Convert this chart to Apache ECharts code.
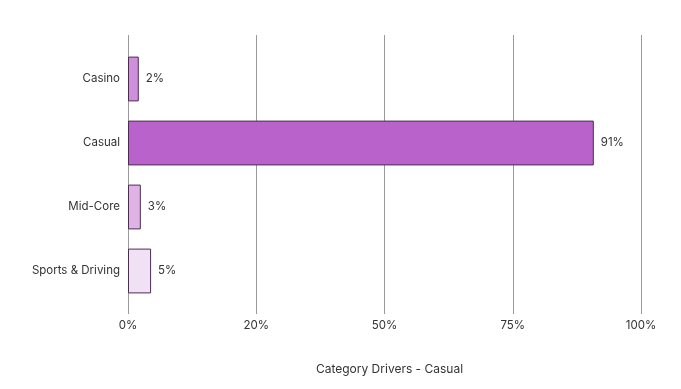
<!DOCTYPE html>
<html><head><meta charset="utf-8">
<script src="https://cdn.jsdelivr.net/npm/echarts@6/dist/echarts.min.js"></script>
<style>html,body{margin:0;padding:0;background:#fff}#c{width:681px;height:389px}</style>
</head><body><div id="c"></div>
<script>
const categories = ["Casino", "Casual", "Mid-Core", "Sports & Driving"];
const values = [2.1, 90.8, 2.5, 4.5];
const barColors = ["#cf8fdb", "#b962cc", "#dfb3e6", "#f1e1f4"];
const tickLabels = ["0%", "20%", "50%", "75%", "100%"];
const axisTitle = "Category Drivers - Casual";

const font = "Inter, 'Noto Sans', sans-serif";
const chart = echarts.init(document.getElementById('c'));
chart.setOption({
  animation: false,
  grid: {left: 128, right: 40, top: 47, bottom: 86},
  xAxis: [{
    type: 'value', min: 0, max: 100, interval: 25,
    axisLine: {show: false},
    axisTick: {show: true, length: 11, lineStyle: {color: '#9a9a9a'}},
    splitLine: {show: true, lineStyle: {color: '#9a9a9a', width: 1}},
    axisLabel: {margin: 17, color: '#333', fontSize: 11.5, fontFamily: font,
      formatter: function (v) { return tickLabels[Math.round(v / 25)]; }},
    name: axisTitle, nameLocation: 'middle', nameGap: 60,
    nameTextStyle: {color: '#333', fontSize: 12, fontFamily: font, padding: [0, 0, 0, 10]}
  }, {
    type: 'value', position: 'top', min: 0, max: 100, interval: 25,
    axisLine: {show: false}, axisLabel: {show: false}, splitLine: {show: false},
    axisTick: {show: true, length: 12, lineStyle: {color: '#9a9a9a'}}
  }],
  yAxis: {
    type: 'category', data: categories, inverse: true,
    axisLine: {show: false}, axisTick: {show: false},
    axisLabel: {color: '#333', fontSize: 11.5, fontFamily: font, margin: 8}
  },
  series: [{
    type: 'bar', barCategoryGap: '30%',
    data: values.map((v, i) => ({value: v, itemStyle: {color: barColors[i]}})),
    itemStyle: {borderColor: '#4b2d52', borderWidth: 1},
    label: {show: true, position: 'right', distance: 7, color: '#333', fontSize: 11.5, fontFamily: font,
      formatter: p => Math.round(p.value) + '%'}
  }]
});
</script></body></html>
